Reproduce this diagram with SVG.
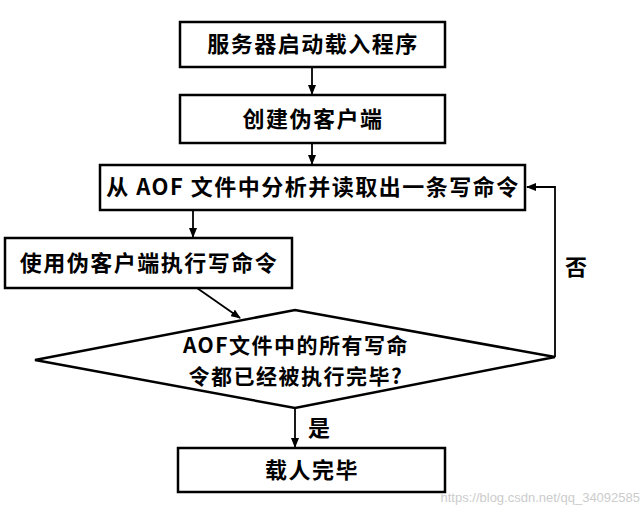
<svg xmlns="http://www.w3.org/2000/svg" width="644" height="517" viewBox="0 0 644 517">
<defs>
<marker id="ah" markerWidth="10" markerHeight="8" refX="9" refY="4" orient="auto" markerUnits="userSpaceOnUse"><path d="M0,0 L10,4 L0,8 Z" fill="#000"/></marker>
<style>
.b{fill:#fff;stroke:#000;stroke-width:2.5}
.t{font-family:"Noto Sans CJK SC","Liberation Serif",serif;font-size:22px;font-weight:bold;fill:#000;letter-spacing:1.5px}
.d{font-size:21px}
.c{stroke:#000;stroke-width:1.8;fill:none;marker-end:url(#ah)}
</style>
</defs>
<rect width="644" height="517" fill="#fff"/>
<g id="connectors">
<line class="c" x1="312" y1="67" x2="312" y2="94"/>
<line class="c" x1="312" y1="143" x2="312" y2="164"/>
<line class="c" x1="193" y1="210" x2="193" y2="237"/>
<line class="c" x1="197" y1="288" x2="240" y2="318"/>
<line class="c" x1="295" y1="408" x2="295" y2="447"/>
<polyline class="c" points="555,357 555,187 527,187"/>
<text class="t" x="308" y="436">是</text>
<text class="t" x="565" y="275">否</text>
</g>
<g id="n1"><rect class="b" x="180" y="22" width="265" height="45"/><text class="t" x="313" y="52" text-anchor="middle">服务器启动载入程序</text></g>
<g id="n2"><rect class="b" x="180" y="95" width="265" height="48"/><text class="t" x="313" y="127" text-anchor="middle">创建伪客户端</text></g>
<g id="n3"><rect class="b" x="100" y="165" width="425" height="45"/><text class="t" x="313" y="195" text-anchor="middle">从 AOF 文件中分析并读取出一条写命令</text></g>
<g id="n4"><rect class="b" x="5" y="238" width="287" height="50"/><text class="t" x="149" y="271" text-anchor="middle">使用伪客户端执行写命令</text></g>
<g id="n5"><polygon class="b" points="35,360 295,310 555,357 295,408"/><text class="t d" x="296" y="353" text-anchor="middle">AOF文件中的所有写命</text><text class="t d" x="296" y="384" text-anchor="middle">令都已经被执行完毕?</text></g>
<g id="n6"><rect class="b" x="178" y="448" width="267" height="44"/><text class="t" x="312" y="478" text-anchor="middle">载人完毕</text></g>
<text x="640" y="502" text-anchor="end" font-family="Liberation Sans,sans-serif" font-size="13" fill="#ccc">https://blog.csdn.net/qq_34092585</text>
</svg>
